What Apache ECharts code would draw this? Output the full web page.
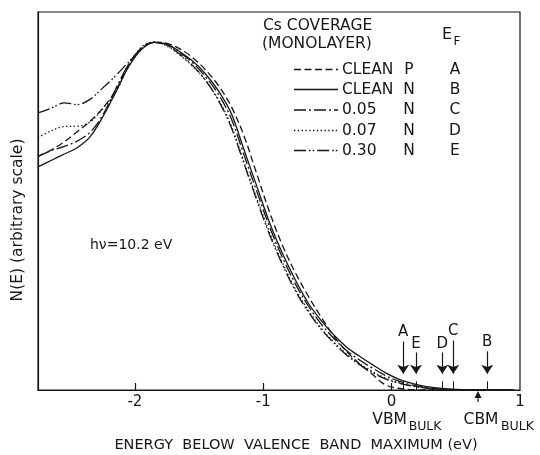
<!DOCTYPE html>
<html><head><meta charset="utf-8">
<script src="https://cdn.jsdelivr.net/npm/echarts@6/dist/echarts.min.js"></script>
<style>html,body{margin:0;padding:0;background:#fff}#c{width:540px;height:455px}</style>
</head><body><div id="c"></div>
<script>
// ---- data ----
const energy = [-2.755,-2.65,-2.55,-2.45,-2.35,-2.25,-2.15,-2.05,-1.95,-1.85,-1.75,-1.65,-1.55,-1.45,-1.35,-1.25,-1.15,-1.05,-0.95,-0.85,-0.75,-0.65,-0.55,-0.45,-0.35,-0.25,-0.15,-0.05,0.05,0.15,0.25,0.35,0.45,0.55,0.65,0.75,0.85,0.95];
const cleanP = [0.671,0.69,0.713,0.742,0.772,0.81,0.86,0.935,0.982,0.999,0.996,0.98,0.955,0.92,0.875,0.815,0.73,0.62,0.51,0.415,0.337,0.27,0.21,0.155,0.11,0.075,0.045,0.015,0.005,0.001,0,0,0,0,0,0,0,0];
const cleanN = [0.641,0.66,0.678,0.696,0.727,0.785,0.855,0.928,0.978,0.999,0.993,0.972,0.945,0.908,0.86,0.795,0.69,0.585,0.48,0.392,0.316,0.25,0.2,0.158,0.123,0.097,0.073,0.05,0.032,0.02,0.011,0.006,0.003,0.001,0,0,0,0];
const cov005 = [0.671,0.688,0.70,0.715,0.74,0.79,0.865,0.935,0.98,0.999,0.993,0.97,0.94,0.9,0.85,0.78,0.675,0.57,0.468,0.38,0.305,0.242,0.19,0.148,0.113,0.086,0.063,0.042,0.026,0.015,0.008,0.004,0.001,0,0,0,0,0];
const cov007 = [0.725,0.745,0.757,0.758,0.77,0.808,0.855,0.93,0.985,1.0,0.988,0.962,0.93,0.89,0.835,0.76,0.655,0.55,0.452,0.365,0.29,0.23,0.178,0.138,0.103,0.076,0.053,0.035,0.022,0.013,0.007,0.003,0.001,0,0,0,0,0];
const cov030 = [0.796,0.81,0.825,0.82,0.835,0.868,0.903,0.942,0.98,0.999,0.99,0.965,0.932,0.89,0.832,0.755,0.65,0.545,0.445,0.36,0.285,0.225,0.175,0.135,0.1,0.073,0.05,0.032,0.02,0.012,0.006,0.002,0,0,0,0,0,0];
const coverageLabels = ['CLEAN','CLEAN','0.05','0.07','0.30'];
const dopingTypes = ['P','N','N','N','N'];
const efTags = ['A','B','C','D','E'];
const efLabels = ['A','E','D','C','B'];
const efEnergy = [0.09,0.19,0.395,0.48,0.745];
const vbmEnergy = 0;
const cbmEnergy = 0.673;
const xTickLabels = [-2,-1,0,1];

// ---- style / layout ----
const FONT = 'DejaVu Sans';
const INK = '#161616';
const dashes = [[7,3.5],'solid',[12,3,2,3],[1.4,2.4],[12,3,1.6,2,1.6,3]];
const efLabelY = [0.166,0.133,0.133,0.169,0.137];
const efArrowTop = [0.139,0.108,0.108,0.142,0.111];
const efArrowTip = 0.047;

const curves = [cleanP, cleanN, cov005, cov007, cov030];
const chart = echarts.init(document.getElementById('c'), null, {renderer:'canvas'});

const series = curves.map((vals,i)=>({
  type:'line', name: coverageLabels[i]+' '+dopingTypes[i],
  data: energy.map((e,j)=>[e, vals[j]]),
  smooth:0.35, showSymbol:false, animation:false, silent:true,
  itemStyle:{color:INK},
  lineStyle:{color:INK, width:1.3, type:dashes[i]}
}));
series.push({
  type:'line', data:[], animation:false, silent:true, itemStyle:{color:INK},
  markLine:{
    silent:true, animation:false, symbol:['none','arrow'], symbolSize:9,
    itemStyle:{color:INK},
    lineStyle:{color:INK, width:1.2, type:'solid'}, label:{show:false},
    data: efEnergy.map((e,i)=>[{coord:[e, efArrowTop[i]]},{coord:[e, efArrowTip]}])
  }
});
series.push({
  type:'line', data:[], animation:false, silent:true, itemStyle:{color:INK},
  markLine:{
    silent:true, animation:false, symbol:['none','none'],
    lineStyle:{color:INK, width:1, type:'solid'}, label:{show:false},
    data: efEnergy.map((e)=>[{coord:[e, 0.025]},{coord:[e, 0]}])
  }
});
series.push({
  type:'scatter', symbolSize:0, animation:false, silent:true, itemStyle:{color:INK, opacity:1},
  data: efEnergy.map((e,i)=>[e, efLabelY[i], efLabels[i]]),
  label:{show:true, position:'inside', formatter:p=>p.data[2], color:INK, opacity:1, textBorderWidth:0, fontFamily:FONT, fontSize:15}
});

chart.setOption({
  animation:false,
  grid:{left:38, right:20, top:12, bottom:65, show:true, borderColor:INK, borderWidth:1.2},
  xAxis:{type:'value', min:-2.755, max:1,
    axisLine:{show:true, onZero:false, lineStyle:{color:INK, width:1.2}},
    axisTick:{show:true, inside:true, length:7, customValues:[-2,-1,0], lineStyle:{color:INK, width:1.2}},
    axisLabel:{show:true, customValues:xTickLabels, margin:5, color:INK, fontFamily:FONT, fontSize:15, formatter:v=>String(v)},
    splitLine:{show:false}},
  yAxis:{type:'value', min:0, max:1.086,
    axisLine:{show:true, onZero:false, lineStyle:{color:INK, width:1.2}}, axisTick:{show:false}, axisLabel:{show:false}, splitLine:{show:false}},
  series: series
});

const px = (x,y)=>chart.convertToPixel({gridIndex:0},[x,y]);
const T = (text,x,y,size,align,extra)=>Object.assign({type:'text', x:x, y:y, silent:true,
  style:{text:text, fill:INK, fontFamily:FONT, fontSize:size, align:align||'left', verticalAlign:'middle'}}, extra||{});
const g = [];
g.push(T('N(E) (arbitrary scale)', 18, 220, 15.5, 'center', {rotation:Math.PI/2}));
g.push(T('ENERGY  BELOW  VALENCE  BAND  MAXIMUM (eV)', 296, 445, 14.5, 'center'));
g.push(T('h\u03bd=10.2 eV', 90, 245, 14, 'left'));
g.push(T('Cs COVERAGE', 263, 26, 15.5, 'left'));
g.push(T('(MONOLAYER)', 262, 44, 15.5, 'left'));
g.push(T('E', 447, 35, 16, 'center'));
g.push(T('F', 457, 42, 12, 'center'));
const rowY = [69.5, 89.5, 110, 130.5, 150.5];
coverageLabels.forEach((lab,i)=>{
  const d = dashes[i];
  g.push({type:'line', silent:true, shape:{x1:294, y1:rowY[i], x2:338, y2:rowY[i]},
    style:{stroke:INK, lineWidth:1.3, lineDash: d==='solid'?null:d}});
  g.push(T(lab, 342, rowY[i], 15.5, 'left'));
  g.push(T(dopingTypes[i], 409, rowY[i], 15.5, 'center'));
  g.push(T(efTags[i], 455, rowY[i], 15.5, 'center'));
});
const v = px(vbmEnergy, 0), c = px(cbmEnergy, 0);
g.push(T('VBM', v[0]-2, 420, 15.5, 'center'));
g.push(T('BULK', v[0]+17, 427, 12.5, 'left'));
g.push(T('CBM', c[0]+3, 420, 15.5, 'center'));
g.push(T('BULK', c[0]+23, 427, 12.5, 'left'));
g.push({type:'line', silent:true, shape:{x1:c[0], y1:402, x2:c[0], y2:396}, style:{stroke:INK, lineWidth:1.2}});
g.push({type:'polygon', silent:true, shape:{points:[[c[0]-3.5,398],[c[0]+3.5,398],[c[0],391]]}, style:{fill:INK}});
chart.setOption({graphic:g});
</script></body></html>
